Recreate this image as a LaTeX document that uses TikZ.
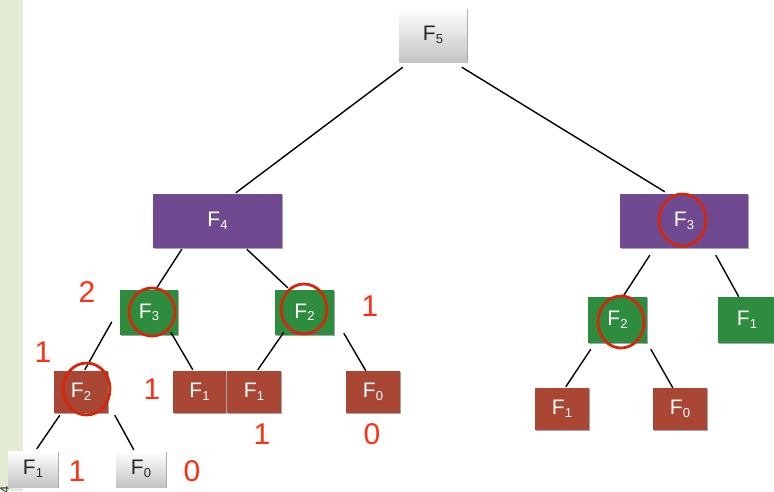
\documentclass[tikz,border=0pt]{standalone}
\usepackage{fontspec}
\setmainfont{Liberation Sans}
\usetikzlibrary{shadows,calc}
\definecolor{strip}{RGB}{228,236,214}
\definecolor{purp}{RGB}{112,74,144}
\definecolor{grn}{RGB}{46,140,62}
\definecolor{brick}{RGB}{170,70,52}
\definecolor{circ}{RGB}{210,40,14}
\definecolor{num}{RGB}{252,48,18}
\definecolor{darktxt}{RGB}{40,40,40}
\newcommand{\Fl}[1]{\fontsize{21}{21}\selectfont F\raisebox{-2.5pt}{\fontsize{13}{13}\selectfont #1}}
\tikzset{
  box/.style={rectangle, inner sep=0pt, drop shadow={shadow xshift=1.2pt, shadow yshift=-1.2pt, opacity=0.35, fill=black}},
  pbox/.style={box, fill=purp, text=white, minimum width=129pt, minimum height=54pt},
  gbox/.style={box, fill=grn, text=white, minimum width=59pt, minimum height=46pt},
  rbox/.style={box, fill=brick, text=white, minimum width=54pt, minimum height=42pt},
  wbox/.style={box, top color=white, bottom color={rgb,255:red,196;green,196;blue,196}, text=darktxt, minimum width=50pt, minimum height=36pt},
  edge/.style={black, line width=1.4pt},
  ring/.style={draw=circ, line width=2.8pt},
  numlab/.style={text=num, font=\fontsize{30}{30}\selectfont, inner sep=0pt}
}
\begin{document}
\begin{tikzpicture}[x=1pt, y=-1pt]
\useasboundingbox (0,0) rectangle (774,491);
\begin{scope}
\clip (0,0) rectangle (774,491);
\fill[strip] (0,0) rectangle (23,491);
\node[rotate=90, font=\fontsize{13}{13}\selectfont, text=darktxt] (pg) at (5,490) {4};

% nodes
\node[wbox, minimum width=68pt, minimum height=54pt] (f5) at (433,35) {\Fl{5}};
\node[pbox] (f4) at (217.5,221) {\Fl{4}};
\node[pbox, minimum width=128pt] (f3r) at (684,221) {\Fl{3}};
\node[gbox, minimum width=58pt, minimum height=45pt] (f3g) at (149,312.5) {\Fl{3}};
\node[gbox, minimum height=45pt] (f2g) at (304.5,312.5) {\Fl{2}};
\node[gbox] (f2gr) at (617.5,320) {\Fl{2}};
\node[gbox, minimum width=58pt] (f1gr) at (747,320) {\Fl{1}};
\node[rbox] (f2r) at (81,392) {\Fl{2}};
\node[rbox, minimum width=53pt] (f1ra) at (199.5,392) {\Fl{1}};
\node[rbox] (f1rb) at (254,392) {\Fl{1}};
\node[rbox] (f0r) at (373,392) {\Fl{0}};
\node[rbox] (f1rr) at (562,409) {\Fl{1}};
\node[rbox] (f0rr) at (680,409) {\Fl{0}};
\node[wbox] (f1g) at (33,469) {\Fl{1}};
\node[wbox] (f0g) at (141,469) {\Fl{0}};

% edges
\draw[edge] ([shift={(4,5)}]f5.south west) -- ([shift={(83,-1)}]f4.north west);
\draw[edge] ([shift={(63,5)}]f5.south west) -- ([shift={(45,-2)}]f3r.north west);
\draw[edge] ([shift={(29,1)}]f4.south west) -- ([shift={(37,-2)}]f3g.north west);
\draw[edge] ([shift={(94,1)}]f4.south west) -- ([shift={(13,-2)}]f2g.north west);
\draw[edge] ([shift={(-8,32)}]f3g.north west) -- ([shift={(31,-1)}]f2r.north west);
\draw[edge] ([shift={(51,-3)}]f3g.south west) -- ([shift={(20,-1)}]f1ra.north west);
\draw[edge] ([shift={(9,-3)}]f2g.south west) -- ([shift={(31,-1)}]f1rb.north west);
\draw[edge] ([shift={(69,-2)}]f2g.south west) -- ([shift={(20,0)}]f0r.north west);
\draw[edge] ([shift={(6,2)}]f2r.south west) -- ([shift={(29,-2)}]f1g.north west);
\draw[edge] ([shift={(61,2)}]f2r.south west) -- ([shift={(18,-1)}]f0g.north west);
\draw[edge] ([shift={(30,7)}]f3r.south west) -- ([shift={(35,0)}]f2gr.north west);
\draw[edge] ([shift={(96,7)}]f3r.south west) -- ([shift={(21,0)}]f1gr.north west);
\draw[edge] ([shift={(3,6)}]f2gr.south west) -- ([shift={(31,-1)}]f1rr.north west);
\draw[edge] ([shift={(63,6)}]f2gr.south west) -- ([shift={(20,0)}]f0rr.north west);

% red rings
\draw[ring] (152,312) ellipse [x radius=23pt, y radius=24pt];
\draw[ring] (304,309) ellipse [x radius=23pt, y radius=25pt];
\draw[ring] (86.5,389) ellipse [x radius=23.5pt, y radius=26pt];
\draw[ring] (682.5,220) ellipse [x radius=23.5pt, y radius=26pt];
\draw[ring] (621,322) ellipse [x radius=23pt, y radius=26pt];

% red numbers
\node[numlab] (n1) at (87,292) {2};
\node[numlab] (n2) at (370,306) {1};
\node[numlab] (n3) at (43,352) {1};
\node[numlab] (n4) at (152,389) {1};
\node[numlab] (n5) at (77,471) {1};
\node[numlab] (n6) at (192,471) {0};
\node[numlab] (n7) at (262,434) {1};
\node[numlab] (n8) at (372,434) {0};
\end{scope}
\end{tikzpicture}
\end{document}
